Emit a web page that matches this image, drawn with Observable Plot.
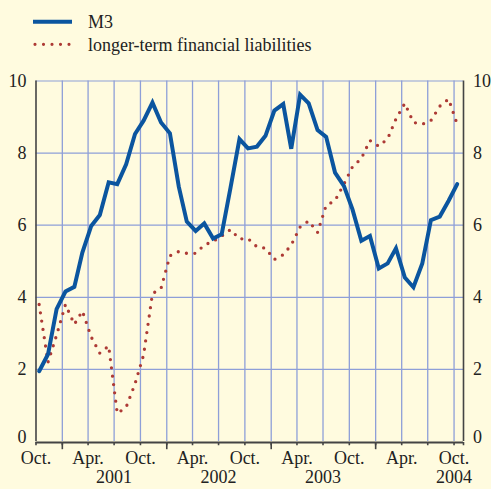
<!DOCTYPE html>
<html>
<head>
<meta charset="utf-8">
<script src="https://cdn.jsdelivr.net/npm/d3@7"></script>
<script src="https://cdn.jsdelivr.net/npm/@observablehq/plot@0.6"></script>
<style>
  html, body { margin: 0; padding: 0; background: #fffbdf; }
  #wrap { width: 491px; height: 489px; background: #fffbdf; font-family: "Liberation Serif", "Times New Roman", serif; color: #222; }
  #legend { display: block; }
</style>
</head>
<body>
<div id="wrap">
  <svg id="legend" width="491" height="62"></svg>
  <div id="chart"></div>
</div>
<script>
// Series names
const seriesNames = ["M3", "longer-term financial liabilities"];
// First observation month (Oct. 2000), monthly through Oct. 2004
const firstMonth = [2000, 9];
// M3 (annual growth, %)
const m3 = [1.95, 2.42, 3.67, 4.16, 4.29, 5.24, 5.98, 6.28, 7.19, 7.14, 7.69, 8.53,
            8.90, 9.40, 8.85, 8.55, 7.07, 6.10, 5.84, 6.05, 5.63, 5.75, 7.05, 8.39,
            8.13, 8.18, 8.48, 9.18, 9.36, 8.12, 9.62, 9.38, 8.64, 8.45, 7.46, 7.09,
            6.44, 5.57, 5.70, 4.80, 4.94, 5.36, 4.55, 4.28, 4.94, 6.14, 6.24, 6.68, 7.14];
// Longer-term financial liabilities (annual growth, %)
const ltfl = [3.80, 2.20, 2.95, 3.80, 3.25, 3.62, 2.90, 2.45, 2.65, 0.78, 0.95, 1.60,
              2.40, 4.10, 4.25, 5.15, 5.27, 5.22, 5.22, 5.45, 5.55, 5.70, 5.88, 5.62,
              5.63, 5.40, 5.36, 5.05, 5.18, 5.45, 5.95, 6.12, 5.80, 6.55, 6.68, 7.14,
              7.62, 7.85, 8.35, 8.19, 8.40, 8.95, 9.38, 8.85, 8.80, 8.90, 9.30, 9.50, 8.80];
// Axis labels
const yTicks = [0, 2, 4, 6, 8, 10];
const monthLabels = ["Oct.", "Apr.", "Oct.", "Apr.", "Oct.", "Apr.", "Oct.", "Apr.", "Oct."];
const yearLabels = ["2001", "2002", "2003", "2004"];

const BG = "#fffbdf";
const BLUE = "#0b559f";
const RED = "#ad3a35";
const GRID = "#8e9fd8";
const AXIS = "#444";

const dateOf = (i) => new Date(Date.UTC(firstMonth[0], firstMonth[1] + i, 12));
const data = [];
m3.forEach((v, i) => data.push({date: dateOf(i), value: v, series: seriesNames[0]}));
ltfl.forEach((v, i) => data.push({date: dateOf(i), value: v, series: seriesNames[1]}));

const start = new Date(Date.UTC(2000, 9, 1));
const end = new Date(Date.UTC(2004, 10, 3));
const quarters = d3.utcMonth.every(3).range(start, end);
const gridQuarters = quarters.slice(1);
const januaries = quarters.filter(d => d.getUTCMonth() === 0);
const halfYears = quarters.filter(d => d.getUTCMonth() === 9 || d.getUTCMonth() === 3);
const labelRows = halfYears.map((d, i) => ({date: d, label: monthLabels[i]}));
const yearRows = yearLabels.map((y, i) => ({
  date: i < yearLabels.length - 1 ? new Date(Date.UTC(+y, 6, 1)) : new Date(Date.UTC(+y, 9, 1)),
  label: y
}));

// Legend
const lg = d3.select("#legend");
lg.append("line").attr("x1", 33).attr("x2", 72).attr("y1", 21.7).attr("y2", 21.7)
  .attr("stroke", BLUE).attr("stroke-width", 4);
lg.append("line").attr("x1", 35).attr("x2", 70).attr("y1", 44.3).attr("y2", 44.3)
  .attr("stroke", RED).attr("stroke-width", 3.2).attr("stroke-linecap", "round")
  .attr("stroke-dasharray", "0 8.5");
lg.append("text").attr("x", 88).attr("y", 28.3).text(seriesNames[0])
  .attr("font-size", 18).attr("fill", "#222");
lg.append("text").attr("x", 88).attr("y", 51).text(seriesNames[1])
  .attr("font-size", 18).attr("fill", "#222");

const chart = Plot.plot({
  width: 491,
  height: 427,
  marginLeft: 35.5,
  marginRight: 28,
  marginTop: 18.5,
  marginBottom: 48,
  style: {background: BG, fontFamily: "Liberation Serif, Times New Roman, serif", fontSize: "18px", color: "#222"},
  x: {type: "utc", domain: [start, end], axis: null},
  y: {domain: [0, 10], axis: null},
  marks: [
    Plot.ruleY([2, 4, 6, 8, 10], {stroke: GRID, strokeWidth: 1.2}),
    Plot.ruleX(gridQuarters, {y1: 0, y2: 10, stroke: GRID, strokeWidth: 1.3}),
    Plot.ruleX([start, end], {y1: 0, y2: 10, stroke: AXIS, strokeWidth: 1.6}),
    Plot.ruleX(quarters, {y1: 0, y2: -0.09, stroke: AXIS, strokeWidth: 1.6, dy: 1}),
    Plot.ruleX(januaries, {y1: 0, y2: -0.2, stroke: AXIS, strokeWidth: 1.6, dy: 1}),
    Plot.ruleX([end], {y1: 0, y2: -0.09, stroke: AXIS, strokeWidth: 1.6, dy: 1}),
    Plot.ruleY([0], {stroke: AXIS, strokeWidth: 2, dy: 1}),
    Plot.line(data.filter(d => d.series === seriesNames[1]), {
      x: "date", y: "value", stroke: RED, strokeWidth: 3.3,
      strokeLinecap: "round", strokeDasharray: "0 8.4"
    }),
    Plot.line(data.filter(d => d.series === seriesNames[0]), {
      x: "date", y: "value", stroke: BLUE, strokeWidth: 4, strokeLinejoin: "miter", strokeMiterlimit: 4
    }),
    Plot.text(yTicks.filter(d => d > 0), {x: start, y: d => d, text: d => String(d), textAnchor: "end", dx: -9.5, fill: "#222"}),
    Plot.text(yTicks.filter(d => d > 0), {x: end, y: d => d, text: d => String(d), textAnchor: "start", dx: 9.5, fill: "#222"}),
    Plot.text(yTicks.filter(d => d === 0), {x: start, y: d => d, text: d => String(d), textAnchor: "end", dx: -9.5, dy: -4, fill: "#222"}),
    Plot.text(yTicks.filter(d => d === 0), {x: end, y: d => d, text: d => String(d), textAnchor: "start", dx: 9.5, dy: -4, fill: "#222"}),
    Plot.text(labelRows, {x: "date", text: "label", frameAnchor: "bottom", dy: 22.5, fill: "#222"}),
    Plot.text(yearRows, {x: "date", text: "label", frameAnchor: "bottom", dy: 41.5, fill: "#222"})
  ]
});
document.getElementById("chart").appendChild(chart);
</script>
</body>
</html>
